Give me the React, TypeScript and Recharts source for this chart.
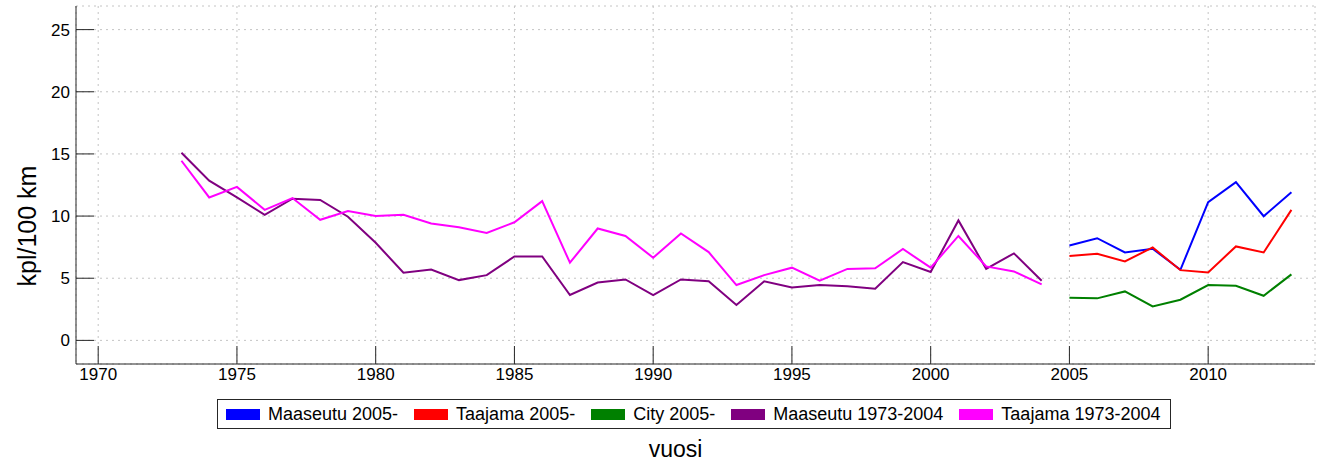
import React from "react";
import {
  LineChart,
  Line,
  XAxis,
  YAxis,
  CartesianGrid,
  Legend,
} from "recharts";

// years and values
const oldYears = [
  1973, 1974, 1975, 1976, 1977, 1978, 1979, 1980, 1981, 1982, 1983, 1984, 1985,
  1986, 1987, 1988, 1989, 1990, 1991, 1992, 1993, 1994, 1995, 1996, 1997, 1998,
  1999, 2000, 2001, 2002, 2003, 2004,
];
const maaseutuOld = [
  15.1, 12.85, 11.5, 10.1, 11.4, 11.3, 9.95, 7.85, 5.45, 5.7, 4.85, 5.25, 6.75,
  6.75, 3.65, 4.65, 4.9, 3.65, 4.9, 4.75, 2.85, 4.75, 4.25, 4.45, 4.35, 4.15,
  6.3, 5.5, 9.65, 5.75, 7.0, 4.8,
];
const taajamaOld = [
  14.45, 11.5, 12.35, 10.5, 11.45, 9.7, 10.4, 10.0, 10.1, 9.4, 9.1, 8.65, 9.5,
  11.2, 6.25, 9.0, 8.4, 6.65, 8.6, 7.1, 4.45, 5.25, 5.85, 4.8, 5.75, 5.8, 7.35,
  5.85, 8.4, 5.95, 5.55, 4.5,
];

const newYears = [2005, 2006, 2007, 2008, 2009, 2010, 2011, 2012, 2013];
const maaseutuNew = [7.64, 8.22, 7.07, 7.37, 5.68, 11.12, 12.73, 9.99, 11.92];
const taajamaNew = [6.78, 6.97, 6.35, 7.48, 5.65, 5.47, 7.56, 7.07, 10.5];
const cityNew = [3.43, 3.38, 3.94, 2.73, 3.27, 4.45, 4.4, 3.59, 5.31];

const xTicks = [1970, 1975, 1980, 1985, 1990, 1995, 2000, 2005, 2010];
const yTicks = [0, 5, 10, 15, 20, 25];

const series = [
  { key: "maaseutuNew", name: "Maaseutu 2005-", color: "#0000ff" },
  { key: "taajamaNew", name: "Taajama 2005-", color: "#ff0000" },
  { key: "cityNew", name: "City 2005-", color: "#008000" },
  { key: "maaseutuOld", name: "Maaseutu 1973-2004", color: "#800080" },
  { key: "taajamaOld", name: "Taajama 1973-2004", color: "#ff00ff" },
];

const rows: any[] = [
  ...oldYears.map((year, i) => ({
    year,
    maaseutuOld: maaseutuOld[i],
    taajamaOld: taajamaOld[i],
  })),
  ...newYears.map((year, i) => ({
    year,
    maaseutuNew: maaseutuNew[i],
    taajamaNew: taajamaNew[i],
    cityNew: cityNew[i],
  })),
];

const FONT = '"Liberation Sans", Arial, sans-serif';
const AXIS = "#262626";

const LegendBox = () => (
  <div
    style={{
      boxSizing: "border-box",
      width: "100%",
      height: 30,
      border: `1px solid ${AXIS}`,
      background: "#fff",
      display: "flex",
      alignItems: "center",
      paddingLeft: 8,
      fontFamily: FONT,
      fontSize: 18,
      color: "#000",
      whiteSpace: "nowrap",
    }}
  >
    {series.map((s) => (
      <div
        key={s.key}
        style={{ display: "flex", alignItems: "center", marginRight: 16 }}
      >
        <span
          style={{
            display: "inline-block",
            width: 34,
            height: 11,
            background: s.color,
            marginRight: 8,
          }}
        />
        <span>{s.name}</span>
      </div>
    ))}
  </div>
);

export default function App() {
  return (
    <div style={{ position: "absolute", left: 0, top: 0, background: "#fff" }}>
      <LineChart
        width={1325}
        height={461}
        data={rows}
        margin={{ top: 6, right: 10, left: 0, bottom: 0 }}
      >
        <CartesianGrid
          xAxisId="bottom"
          yAxisId="left"
          stroke="#c4c4c4"
          strokeDasharray="2 4"
        />
        <XAxis
          xAxisId="bottom"
          dataKey="year"
          type="number"
          domain={[1969.2, 2013.85]}
          ticks={xTicks}
          allowDataOverflow
          height={97}
          tickSize={-18}
          tickMargin={22}
          stroke={AXIS}
          tick={{ fontSize: 17, fill: "#000", fontFamily: FONT }}
          label={{
            content: (props: any) => {
              const vb = props.viewBox;
              return (
                <text
                  x={vb.x + vb.width / 2 - 20}
                  y={vb.y + vb.height - 4}
                  textAnchor="middle"
                  fontSize={23}
                  fontFamily={FONT}
                  fill="#000"
                >
                  vuosi
                </text>
              );
            },
          }}
        />
        <XAxis
          xAxisId="top"
          orientation="top"
          dataKey="year"
          type="number"
          domain={[1969.2, 2013.85]}
          ticks={xTicks}
          allowDataOverflow
          height={0}
          tickSize={-18}
          stroke={AXIS}
          tick={false}
        />
        <YAxis
          yAxisId="left"
          type="number"
          domain={[-1.9, 26.9]}
          ticks={yTicks}
          allowDataOverflow
          width={76}
          tickSize={-18}
          tickMargin={24}
          stroke={AXIS}
          tick={{ fontSize: 17, fill: "#000", fontFamily: FONT }}
          label={{
            content: (props: any) => {
              const vb = props.viewBox;
              const cx = vb.x + 27;
              const cy = vb.y + vb.height / 2 + 41;
              return (
                <text
                  x={cx}
                  y={cy}
                  transform={`rotate(-90 ${cx} ${cy})`}
                  textAnchor="middle"
                  dominantBaseline="central"
                  fontSize={25}
                  fontFamily={FONT}
                  fill="#000"
                >
                  kpl/100 km
                </text>
              );
            },
          }}
        />
        <YAxis
          yAxisId="right"
          orientation="right"
          type="number"
          domain={[-1.9, 26.9]}
          ticks={yTicks}
          allowDataOverflow
          width={0}
          tickSize={-18}
          stroke={AXIS}
          tick={false}
        />
        <Legend
          layout="vertical"
          verticalAlign="middle"
          align="center"
          wrapperStyle={{ left: 217, top: 399, width: 954, height: 30 }}
          content={() => <LegendBox />}
        />
        {series.map((s) => (
          <Line
            key={s.key}
            xAxisId="bottom"
            yAxisId="left"
            dataKey={s.key}
            name={s.name}
            stroke={s.color}
            strokeWidth={2}
            dot={false}
            type="linear"
            isAnimationActive={false}
          />
        ))}
      </LineChart>
    </div>
  );
}
